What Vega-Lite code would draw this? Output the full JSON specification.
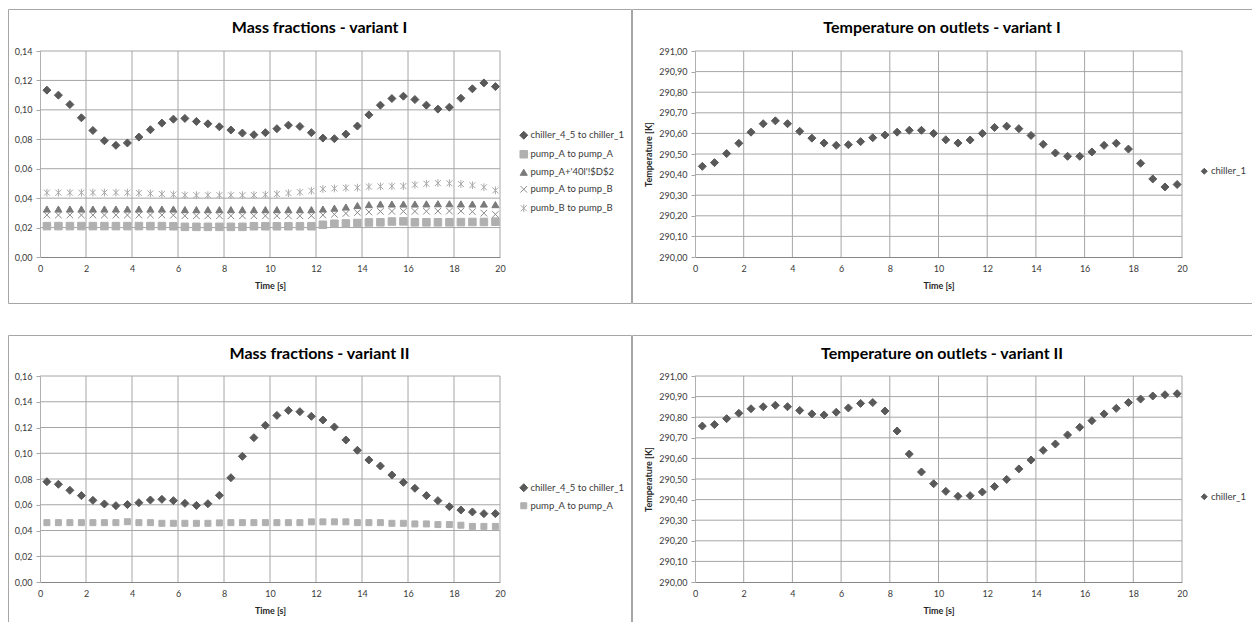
{
  "$schema": "https://vega.github.io/schema/vega-lite/v6.json",
  "background": "white",
  "padding": {"left": 7, "top": 8, "right": 0, "bottom": 0},
  "config": {
    "font": "Lato",
    "view": {"stroke": "#a6a6a6", "strokeWidth": 1},
    "axis": {"labelFont": "Lato", "labelFontSize": 9, "labelColor": "#3a3a3a", "titleFont": "Lato", "titleFontSize": 9, "titleFontWeight": "bold", "titleColor": "#262626", "grid": false, "labelFlush": false, "labelOverlap": false, "tickCount": 20},
    "axisX": {"ticks": false, "domainColor": "#868686", "labelPadding": 7, "titlePadding": 8},
    "axisY": {"tickSize": 4, "tickColor": "#a6a6a6", "domainColor": "#b0b0b0", "labelPadding": 4, "titlePadding": 5},
    "title": {"font": "Lato", "fontSize": 16, "fontWeight": "bold", "color": "#000000", "anchor": "middle", "offset": -27, "baseline": "alphabetic"},
    "legend": {"orient": "none", "labelFont": "Lato", "labelFontSize": 9.5, "labelColor": "#3a3a3a", "symbolSize": 36, "symbolStrokeWidth": 1, "rowPadding": 6, "labelOffset": 2, "padding": 0},
    "rule": {"color": "#a6a6a6", "strokeWidth": 1}
  },
  "datasets": {
    "mass1": [
      {"t":0.3,"s":"chiller_4_5 to chiller_1","v":0.1134},{"t":0.8,"s":"chiller_4_5 to chiller_1","v":0.1100},{"t":1.3,"s":"chiller_4_5 to chiller_1","v":0.1036},{"t":1.8,"s":"chiller_4_5 to chiller_1","v":0.0946},{"t":2.3,"s":"chiller_4_5 to chiller_1","v":0.0860},{"t":2.8,"s":"chiller_4_5 to chiller_1","v":0.0790},{"t":3.3,"s":"chiller_4_5 to chiller_1","v":0.0759},{"t":3.8,"s":"chiller_4_5 to chiller_1","v":0.0775},{"t":4.3,"s":"chiller_4_5 to chiller_1","v":0.0815},{"t":4.8,"s":"chiller_4_5 to chiller_1","v":0.0865},
      {"t":5.3,"s":"chiller_4_5 to chiller_1","v":0.0910},{"t":5.8,"s":"chiller_4_5 to chiller_1","v":0.0937},{"t":6.3,"s":"chiller_4_5 to chiller_1","v":0.0942},{"t":6.8,"s":"chiller_4_5 to chiller_1","v":0.0921},{"t":7.3,"s":"chiller_4_5 to chiller_1","v":0.0905},{"t":7.8,"s":"chiller_4_5 to chiller_1","v":0.0885},{"t":8.3,"s":"chiller_4_5 to chiller_1","v":0.0863},{"t":8.8,"s":"chiller_4_5 to chiller_1","v":0.0842},{"t":9.3,"s":"chiller_4_5 to chiller_1","v":0.0831},{"t":9.8,"s":"chiller_4_5 to chiller_1","v":0.0845},
      {"t":10.3,"s":"chiller_4_5 to chiller_1","v":0.0872},{"t":10.8,"s":"chiller_4_5 to chiller_1","v":0.0896},{"t":11.3,"s":"chiller_4_5 to chiller_1","v":0.0887},{"t":11.8,"s":"chiller_4_5 to chiller_1","v":0.0845},{"t":12.3,"s":"chiller_4_5 to chiller_1","v":0.0808},{"t":12.8,"s":"chiller_4_5 to chiller_1","v":0.0804},{"t":13.3,"s":"chiller_4_5 to chiller_1","v":0.0835},{"t":13.8,"s":"chiller_4_5 to chiller_1","v":0.0890},{"t":14.3,"s":"chiller_4_5 to chiller_1","v":0.0966},{"t":14.8,"s":"chiller_4_5 to chiller_1","v":0.1032},
      {"t":15.3,"s":"chiller_4_5 to chiller_1","v":0.1077},{"t":15.8,"s":"chiller_4_5 to chiller_1","v":0.1093},{"t":16.3,"s":"chiller_4_5 to chiller_1","v":0.1070},{"t":16.8,"s":"chiller_4_5 to chiller_1","v":0.1032},{"t":17.3,"s":"chiller_4_5 to chiller_1","v":0.1005},{"t":17.8,"s":"chiller_4_5 to chiller_1","v":0.1018},{"t":18.3,"s":"chiller_4_5 to chiller_1","v":0.1079},{"t":18.8,"s":"chiller_4_5 to chiller_1","v":0.1143},{"t":19.3,"s":"chiller_4_5 to chiller_1","v":0.1183},{"t":19.8,"s":"chiller_4_5 to chiller_1","v":0.1158},

      {"t":0.3,"s":"pump_A to pump_A","v":0.0210},{"t":0.8,"s":"pump_A to pump_A","v":0.0210},{"t":1.3,"s":"pump_A to pump_A","v":0.0210},{"t":1.8,"s":"pump_A to pump_A","v":0.0210},{"t":2.3,"s":"pump_A to pump_A","v":0.0210},{"t":2.8,"s":"pump_A to pump_A","v":0.0210},{"t":3.3,"s":"pump_A to pump_A","v":0.0210},{"t":3.8,"s":"pump_A to pump_A","v":0.0210},{"t":4.3,"s":"pump_A to pump_A","v":0.0210},{"t":4.8,"s":"pump_A to pump_A","v":0.0210},
      {"t":5.3,"s":"pump_A to pump_A","v":0.0210},{"t":5.8,"s":"pump_A to pump_A","v":0.0209},{"t":6.3,"s":"pump_A to pump_A","v":0.0205},{"t":6.8,"s":"pump_A to pump_A","v":0.0205},{"t":7.3,"s":"pump_A to pump_A","v":0.0205},{"t":7.8,"s":"pump_A to pump_A","v":0.0205},{"t":8.3,"s":"pump_A to pump_A","v":0.0205},{"t":8.8,"s":"pump_A to pump_A","v":0.0205},{"t":9.3,"s":"pump_A to pump_A","v":0.0209},{"t":9.8,"s":"pump_A to pump_A","v":0.0209},
      {"t":10.3,"s":"pump_A to pump_A","v":0.0209},{"t":10.8,"s":"pump_A to pump_A","v":0.0209},{"t":11.3,"s":"pump_A to pump_A","v":0.0209},{"t":11.8,"s":"pump_A to pump_A","v":0.0209},{"t":12.3,"s":"pump_A to pump_A","v":0.0219},{"t":12.8,"s":"pump_A to pump_A","v":0.0226},{"t":13.3,"s":"pump_A to pump_A","v":0.0228},{"t":13.8,"s":"pump_A to pump_A","v":0.0231},{"t":14.3,"s":"pump_A to pump_A","v":0.0235},{"t":14.8,"s":"pump_A to pump_A","v":0.0236},
      {"t":15.3,"s":"pump_A to pump_A","v":0.0241},{"t":15.8,"s":"pump_A to pump_A","v":0.0242},{"t":16.3,"s":"pump_A to pump_A","v":0.0236},{"t":16.8,"s":"pump_A to pump_A","v":0.0236},{"t":17.3,"s":"pump_A to pump_A","v":0.0236},{"t":17.8,"s":"pump_A to pump_A","v":0.0236},{"t":18.3,"s":"pump_A to pump_A","v":0.0237},{"t":18.8,"s":"pump_A to pump_A","v":0.0238},{"t":19.3,"s":"pump_A to pump_A","v":0.0238},{"t":19.8,"s":"pump_A to pump_A","v":0.0240},

      {"t":0.3,"s":"pump_A+'40l'!$D$2","v":0.0326},{"t":0.8,"s":"pump_A+'40l'!$D$2","v":0.0326},{"t":1.3,"s":"pump_A+'40l'!$D$2","v":0.0326},{"t":1.8,"s":"pump_A+'40l'!$D$2","v":0.0326},{"t":2.3,"s":"pump_A+'40l'!$D$2","v":0.0326},{"t":2.8,"s":"pump_A+'40l'!$D$2","v":0.0326},{"t":3.3,"s":"pump_A+'40l'!$D$2","v":0.0326},{"t":3.8,"s":"pump_A+'40l'!$D$2","v":0.0326},{"t":4.3,"s":"pump_A+'40l'!$D$2","v":0.0326},{"t":4.8,"s":"pump_A+'40l'!$D$2","v":0.0326},
      {"t":5.3,"s":"pump_A+'40l'!$D$2","v":0.0326},{"t":5.8,"s":"pump_A+'40l'!$D$2","v":0.0326},{"t":6.3,"s":"pump_A+'40l'!$D$2","v":0.0322},{"t":6.8,"s":"pump_A+'40l'!$D$2","v":0.0322},{"t":7.3,"s":"pump_A+'40l'!$D$2","v":0.0322},{"t":7.8,"s":"pump_A+'40l'!$D$2","v":0.0322},{"t":8.3,"s":"pump_A+'40l'!$D$2","v":0.0322},{"t":8.8,"s":"pump_A+'40l'!$D$2","v":0.0322},{"t":9.3,"s":"pump_A+'40l'!$D$2","v":0.0322},{"t":9.8,"s":"pump_A+'40l'!$D$2","v":0.0322},
      {"t":10.3,"s":"pump_A+'40l'!$D$2","v":0.0322},{"t":10.8,"s":"pump_A+'40l'!$D$2","v":0.0322},{"t":11.3,"s":"pump_A+'40l'!$D$2","v":0.0322},{"t":11.8,"s":"pump_A+'40l'!$D$2","v":0.0322},{"t":12.3,"s":"pump_A+'40l'!$D$2","v":0.0326},{"t":12.8,"s":"pump_A+'40l'!$D$2","v":0.0332},{"t":13.3,"s":"pump_A+'40l'!$D$2","v":0.0340},{"t":13.8,"s":"pump_A+'40l'!$D$2","v":0.0350},{"t":14.3,"s":"pump_A+'40l'!$D$2","v":0.0356},{"t":14.8,"s":"pump_A+'40l'!$D$2","v":0.0360},
      {"t":15.3,"s":"pump_A+'40l'!$D$2","v":0.0360},{"t":15.8,"s":"pump_A+'40l'!$D$2","v":0.0360},{"t":16.3,"s":"pump_A+'40l'!$D$2","v":0.0360},{"t":16.8,"s":"pump_A+'40l'!$D$2","v":0.0361},{"t":17.3,"s":"pump_A+'40l'!$D$2","v":0.0362},{"t":17.8,"s":"pump_A+'40l'!$D$2","v":0.0362},{"t":18.3,"s":"pump_A+'40l'!$D$2","v":0.0361},{"t":18.8,"s":"pump_A+'40l'!$D$2","v":0.0360},{"t":19.3,"s":"pump_A+'40l'!$D$2","v":0.0360},{"t":19.8,"s":"pump_A+'40l'!$D$2","v":0.0356},

      {"t":0.3,"s":"pump_A to pump_B","v":0.0285},{"t":0.8,"s":"pump_A to pump_B","v":0.0285},{"t":1.3,"s":"pump_A to pump_B","v":0.0285},{"t":1.8,"s":"pump_A to pump_B","v":0.0285},{"t":2.3,"s":"pump_A to pump_B","v":0.0285},{"t":2.8,"s":"pump_A to pump_B","v":0.0285},{"t":3.3,"s":"pump_A to pump_B","v":0.0285},{"t":3.8,"s":"pump_A to pump_B","v":0.0285},{"t":4.3,"s":"pump_A to pump_B","v":0.0285},{"t":4.8,"s":"pump_A to pump_B","v":0.0285},
      {"t":5.3,"s":"pump_A to pump_B","v":0.0285},{"t":5.8,"s":"pump_A to pump_B","v":0.0284},{"t":6.3,"s":"pump_A to pump_B","v":0.0280},{"t":6.8,"s":"pump_A to pump_B","v":0.0280},{"t":7.3,"s":"pump_A to pump_B","v":0.0280},{"t":7.8,"s":"pump_A to pump_B","v":0.0280},{"t":8.3,"s":"pump_A to pump_B","v":0.0280},{"t":8.8,"s":"pump_A to pump_B","v":0.0280},{"t":9.3,"s":"pump_A to pump_B","v":0.0280},{"t":9.8,"s":"pump_A to pump_B","v":0.0280},
      {"t":10.3,"s":"pump_A to pump_B","v":0.0280},{"t":10.8,"s":"pump_A to pump_B","v":0.0280},{"t":11.3,"s":"pump_A to pump_B","v":0.0280},{"t":11.8,"s":"pump_A to pump_B","v":0.0281},{"t":12.3,"s":"pump_A to pump_B","v":0.0285},{"t":12.8,"s":"pump_A to pump_B","v":0.0290},{"t":13.3,"s":"pump_A to pump_B","v":0.0296},{"t":13.8,"s":"pump_A to pump_B","v":0.0302},{"t":14.3,"s":"pump_A to pump_B","v":0.0306},{"t":14.8,"s":"pump_A to pump_B","v":0.0310},
      {"t":15.3,"s":"pump_A to pump_B","v":0.0310},{"t":15.8,"s":"pump_A to pump_B","v":0.0310},{"t":16.3,"s":"pump_A to pump_B","v":0.0310},{"t":16.8,"s":"pump_A to pump_B","v":0.0311},{"t":17.3,"s":"pump_A to pump_B","v":0.0312},{"t":17.8,"s":"pump_A to pump_B","v":0.0312},{"t":18.3,"s":"pump_A to pump_B","v":0.0312},{"t":18.8,"s":"pump_A to pump_B","v":0.0308},{"t":19.3,"s":"pump_A to pump_B","v":0.0298},{"t":19.8,"s":"pump_A to pump_B","v":0.0290},

      {"t":0.3,"s":"pumb_B to pump_B","v":0.0437},{"t":0.8,"s":"pumb_B to pump_B","v":0.0437},{"t":1.3,"s":"pumb_B to pump_B","v":0.0437},{"t":1.8,"s":"pumb_B to pump_B","v":0.0437},{"t":2.3,"s":"pumb_B to pump_B","v":0.0438},{"t":2.8,"s":"pumb_B to pump_B","v":0.0438},{"t":3.3,"s":"pumb_B to pump_B","v":0.0438},{"t":3.8,"s":"pumb_B to pump_B","v":0.0437},{"t":4.3,"s":"pumb_B to pump_B","v":0.0435},{"t":4.8,"s":"pumb_B to pump_B","v":0.0432},
      {"t":5.3,"s":"pumb_B to pump_B","v":0.0428},{"t":5.8,"s":"pumb_B to pump_B","v":0.0425},{"t":6.3,"s":"pumb_B to pump_B","v":0.0420},{"t":6.8,"s":"pumb_B to pump_B","v":0.0420},{"t":7.3,"s":"pumb_B to pump_B","v":0.0420},{"t":7.8,"s":"pumb_B to pump_B","v":0.0420},{"t":8.3,"s":"pumb_B to pump_B","v":0.0420},{"t":8.8,"s":"pumb_B to pump_B","v":0.0420},{"t":9.3,"s":"pumb_B to pump_B","v":0.0421},{"t":9.8,"s":"pumb_B to pump_B","v":0.0423},
      {"t":10.3,"s":"pumb_B to pump_B","v":0.0428},{"t":10.8,"s":"pumb_B to pump_B","v":0.0434},{"t":11.3,"s":"pumb_B to pump_B","v":0.0440},{"t":11.8,"s":"pumb_B to pump_B","v":0.0450},{"t":12.3,"s":"pumb_B to pump_B","v":0.0462},{"t":12.8,"s":"pumb_B to pump_B","v":0.0466},{"t":13.3,"s":"pumb_B to pump_B","v":0.0470},{"t":13.8,"s":"pumb_B to pump_B","v":0.0471},{"t":14.3,"s":"pumb_B to pump_B","v":0.0478},{"t":14.8,"s":"pumb_B to pump_B","v":0.0480},
      {"t":15.3,"s":"pumb_B to pump_B","v":0.0481},{"t":15.8,"s":"pumb_B to pump_B","v":0.0482},{"t":16.3,"s":"pumb_B to pump_B","v":0.0491},{"t":16.8,"s":"pumb_B to pump_B","v":0.0498},{"t":17.3,"s":"pumb_B to pump_B","v":0.0502},{"t":17.8,"s":"pumb_B to pump_B","v":0.0501},{"t":18.3,"s":"pumb_B to pump_B","v":0.0496},{"t":18.8,"s":"pumb_B to pump_B","v":0.0488},{"t":19.3,"s":"pumb_B to pump_B","v":0.0474},{"t":19.8,"s":"pumb_B to pump_B","v":0.0453}
    ],
    "temp1": [
      {"t":0.3,"s":"chiller_1","v":290.440},{"t":0.8,"s":"chiller_1","v":290.458},{"t":1.3,"s":"chiller_1","v":290.502},{"t":1.8,"s":"chiller_1","v":290.552},{"t":2.3,"s":"chiller_1","v":290.606},{"t":2.8,"s":"chiller_1","v":290.647},{"t":3.3,"s":"chiller_1","v":290.661},{"t":3.8,"s":"chiller_1","v":290.647},{"t":4.3,"s":"chiller_1","v":290.610},{"t":4.8,"s":"chiller_1","v":290.577},
      {"t":5.3,"s":"chiller_1","v":290.553},{"t":5.8,"s":"chiller_1","v":290.542},{"t":6.3,"s":"chiller_1","v":290.545},{"t":6.8,"s":"chiller_1","v":290.560},{"t":7.3,"s":"chiller_1","v":290.579},{"t":7.8,"s":"chiller_1","v":290.592},{"t":8.3,"s":"chiller_1","v":290.606},{"t":8.8,"s":"chiller_1","v":290.615},{"t":9.3,"s":"chiller_1","v":290.615},{"t":9.8,"s":"chiller_1","v":290.600},
      {"t":10.3,"s":"chiller_1","v":290.569},{"t":10.8,"s":"chiller_1","v":290.553},{"t":11.3,"s":"chiller_1","v":290.568},{"t":11.8,"s":"chiller_1","v":290.600},{"t":12.3,"s":"chiller_1","v":290.629},{"t":12.8,"s":"chiller_1","v":290.635},{"t":13.3,"s":"chiller_1","v":290.623},{"t":13.8,"s":"chiller_1","v":290.590},{"t":14.3,"s":"chiller_1","v":290.547},{"t":14.8,"s":"chiller_1","v":290.505},
      {"t":15.3,"s":"chiller_1","v":290.489},{"t":15.8,"s":"chiller_1","v":290.489},{"t":16.3,"s":"chiller_1","v":290.510},{"t":16.8,"s":"chiller_1","v":290.542},{"t":17.3,"s":"chiller_1","v":290.552},{"t":17.8,"s":"chiller_1","v":290.524},{"t":18.3,"s":"chiller_1","v":290.455},{"t":18.8,"s":"chiller_1","v":290.379},{"t":19.3,"s":"chiller_1","v":290.340},{"t":19.8,"s":"chiller_1","v":290.352}
    ],
    "mass2": [
      {"t":0.3,"s":"chiller_4_5 to chiller_1","v":0.0779},{"t":0.8,"s":"chiller_4_5 to chiller_1","v":0.0759},{"t":1.3,"s":"chiller_4_5 to chiller_1","v":0.0712},{"t":1.8,"s":"chiller_4_5 to chiller_1","v":0.0671},{"t":2.3,"s":"chiller_4_5 to chiller_1","v":0.0634},{"t":2.8,"s":"chiller_4_5 to chiller_1","v":0.0606},{"t":3.3,"s":"chiller_4_5 to chiller_1","v":0.0593},{"t":3.8,"s":"chiller_4_5 to chiller_1","v":0.0601},{"t":4.3,"s":"chiller_4_5 to chiller_1","v":0.0616},{"t":4.8,"s":"chiller_4_5 to chiller_1","v":0.0637},
      {"t":5.3,"s":"chiller_4_5 to chiller_1","v":0.0642},{"t":5.8,"s":"chiller_4_5 to chiller_1","v":0.0632},{"t":6.3,"s":"chiller_4_5 to chiller_1","v":0.0611},{"t":6.8,"s":"chiller_4_5 to chiller_1","v":0.0595},{"t":7.3,"s":"chiller_4_5 to chiller_1","v":0.0608},{"t":7.8,"s":"chiller_4_5 to chiller_1","v":0.0673},{"t":8.3,"s":"chiller_4_5 to chiller_1","v":0.0810},{"t":8.8,"s":"chiller_4_5 to chiller_1","v":0.0976},{"t":9.3,"s":"chiller_4_5 to chiller_1","v":0.1121},{"t":9.8,"s":"chiller_4_5 to chiller_1","v":0.1217},
      {"t":10.3,"s":"chiller_4_5 to chiller_1","v":0.1294},{"t":10.8,"s":"chiller_4_5 to chiller_1","v":0.1333},{"t":11.3,"s":"chiller_4_5 to chiller_1","v":0.1323},{"t":11.8,"s":"chiller_4_5 to chiller_1","v":0.1287},{"t":12.3,"s":"chiller_4_5 to chiller_1","v":0.1258},{"t":12.8,"s":"chiller_4_5 to chiller_1","v":0.1204},{"t":13.3,"s":"chiller_4_5 to chiller_1","v":0.1103},{"t":13.8,"s":"chiller_4_5 to chiller_1","v":0.1023},{"t":14.3,"s":"chiller_4_5 to chiller_1","v":0.0948},{"t":14.8,"s":"chiller_4_5 to chiller_1","v":0.0901},
      {"t":15.3,"s":"chiller_4_5 to chiller_1","v":0.0831},{"t":15.8,"s":"chiller_4_5 to chiller_1","v":0.0774},{"t":16.3,"s":"chiller_4_5 to chiller_1","v":0.0728},{"t":16.8,"s":"chiller_4_5 to chiller_1","v":0.0671},{"t":17.3,"s":"chiller_4_5 to chiller_1","v":0.0632},{"t":17.8,"s":"chiller_4_5 to chiller_1","v":0.0585},{"t":18.3,"s":"chiller_4_5 to chiller_1","v":0.0559},{"t":18.8,"s":"chiller_4_5 to chiller_1","v":0.0544},{"t":19.3,"s":"chiller_4_5 to chiller_1","v":0.0531},{"t":19.8,"s":"chiller_4_5 to chiller_1","v":0.0531},

      {"t":0.3,"s":"pump_A to pump_A","v":0.0461},{"t":0.8,"s":"pump_A to pump_A","v":0.0461},{"t":1.3,"s":"pump_A to pump_A","v":0.0461},{"t":1.8,"s":"pump_A to pump_A","v":0.0461},{"t":2.3,"s":"pump_A to pump_A","v":0.0461},{"t":2.8,"s":"pump_A to pump_A","v":0.0461},{"t":3.3,"s":"pump_A to pump_A","v":0.0461},{"t":3.8,"s":"pump_A to pump_A","v":0.0468},{"t":4.3,"s":"pump_A to pump_A","v":0.0461},{"t":4.8,"s":"pump_A to pump_A","v":0.0461},
      {"t":5.3,"s":"pump_A to pump_A","v":0.0456},{"t":5.8,"s":"pump_A to pump_A","v":0.0456},{"t":6.3,"s":"pump_A to pump_A","v":0.0456},{"t":6.8,"s":"pump_A to pump_A","v":0.0456},{"t":7.3,"s":"pump_A to pump_A","v":0.0456},{"t":7.8,"s":"pump_A to pump_A","v":0.0459},{"t":8.3,"s":"pump_A to pump_A","v":0.0461},{"t":8.8,"s":"pump_A to pump_A","v":0.0461},{"t":9.3,"s":"pump_A to pump_A","v":0.0461},{"t":9.8,"s":"pump_A to pump_A","v":0.0461},
      {"t":10.3,"s":"pump_A to pump_A","v":0.0461},{"t":10.8,"s":"pump_A to pump_A","v":0.0461},{"t":11.3,"s":"pump_A to pump_A","v":0.0461},{"t":11.8,"s":"pump_A to pump_A","v":0.0467},{"t":12.3,"s":"pump_A to pump_A","v":0.0467},{"t":12.8,"s":"pump_A to pump_A","v":0.0467},{"t":13.3,"s":"pump_A to pump_A","v":0.0467},{"t":13.8,"s":"pump_A to pump_A","v":0.0461},{"t":14.3,"s":"pump_A to pump_A","v":0.0461},{"t":14.8,"s":"pump_A to pump_A","v":0.0461},
      {"t":15.3,"s":"pump_A to pump_A","v":0.0456},{"t":15.8,"s":"pump_A to pump_A","v":0.0456},{"t":16.3,"s":"pump_A to pump_A","v":0.0451},{"t":16.8,"s":"pump_A to pump_A","v":0.0451},{"t":17.3,"s":"pump_A to pump_A","v":0.0446},{"t":17.8,"s":"pump_A to pump_A","v":0.0446},{"t":18.3,"s":"pump_A to pump_A","v":0.0441},{"t":18.8,"s":"pump_A to pump_A","v":0.0432},{"t":19.3,"s":"pump_A to pump_A","v":0.0432},{"t":19.8,"s":"pump_A to pump_A","v":0.0432}
    ],
    "temp2": [
      {"t":0.3,"s":"chiller_1","v":290.757},{"t":0.8,"s":"chiller_1","v":290.764},{"t":1.3,"s":"chiller_1","v":290.793},{"t":1.8,"s":"chiller_1","v":290.819},{"t":2.3,"s":"chiller_1","v":290.841},{"t":2.8,"s":"chiller_1","v":290.851},{"t":3.3,"s":"chiller_1","v":290.858},{"t":3.8,"s":"chiller_1","v":290.851},{"t":4.3,"s":"chiller_1","v":290.833},{"t":4.8,"s":"chiller_1","v":290.816},
      {"t":5.3,"s":"chiller_1","v":290.811},{"t":5.8,"s":"chiller_1","v":290.824},{"t":6.3,"s":"chiller_1","v":290.845},{"t":6.8,"s":"chiller_1","v":290.867},{"t":7.3,"s":"chiller_1","v":290.871},{"t":7.8,"s":"chiller_1","v":290.830},{"t":8.3,"s":"chiller_1","v":290.733},{"t":8.8,"s":"chiller_1","v":290.621},{"t":9.3,"s":"chiller_1","v":290.534},{"t":9.8,"s":"chiller_1","v":290.477},
      {"t":10.3,"s":"chiller_1","v":290.440},{"t":10.8,"s":"chiller_1","v":290.416},{"t":11.3,"s":"chiller_1","v":290.419},{"t":11.8,"s":"chiller_1","v":290.437},{"t":12.3,"s":"chiller_1","v":290.463},{"t":12.8,"s":"chiller_1","v":290.498},{"t":13.3,"s":"chiller_1","v":290.549},{"t":13.8,"s":"chiller_1","v":290.592},{"t":14.3,"s":"chiller_1","v":290.639},{"t":14.8,"s":"chiller_1","v":290.670},
      {"t":15.3,"s":"chiller_1","v":290.714},{"t":15.8,"s":"chiller_1","v":290.751},{"t":16.3,"s":"chiller_1","v":290.783},{"t":16.8,"s":"chiller_1","v":290.816},{"t":17.3,"s":"chiller_1","v":290.843},{"t":17.8,"s":"chiller_1","v":290.871},{"t":18.3,"s":"chiller_1","v":290.888},{"t":18.8,"s":"chiller_1","v":290.903},{"t":19.3,"s":"chiller_1","v":290.909},{"t":19.8,"s":"chiller_1","v":290.914}
    ]
  },
  "columns": 2,
  "spacing": {"row": 32, "column": 1},
  "bounds": "flush",
  "resolve": {
    "scale": {"x": "independent", "y": "independent", "shape": "independent", "color": "independent", "stroke": "independent", "size": "independent"},
    "legend": {"shape": "independent", "color": "independent", "stroke": "independent", "size": "independent"}
  },
  "concat": [
    {
      "width": 623,
      "height": 294,
      "title": "Mass fractions - variant I",
      "layer": [
        {
          "data": {"values": [{"t":2},{"t":4},{"t":6},{"t":8},{"t":10},{"t":12},{"t":14},{"t":16},{"t":18},{"t":20}]},
          "mark": "rule",
          "encoding": {"x": {"field": "t", "type": "quantitative"}, "y": {"datum": 0}, "y2": {"datum": 0.14}}
        },
        {
          "data": {"values": [{"v":0.02},{"v":0.04},{"v":0.06},{"v":0.08},{"v":0.10},{"v":0.12},{"v":0.14}]},
          "mark": "rule",
          "encoding": {"y": {"field": "v", "type": "quantitative"}, "x": {"datum": 0}, "x2": {"datum": 20}}
        },
        {
          "data": {"name": "mass1"},
          "mark": {"type": "point", "filled": true, "opacity": 1, "strokeWidth": 1},
          "encoding": {
            "x": {"field": "t", "type": "quantitative", "title": "Time [s]",
                  "scale": {"domain": [0, 20], "range": [32, 492], "nice": false, "zero": false},
                  "axis": {"values": [0,2,4,6,8,10,12,14,16,18,20], "offset": -46, "tickCount": 20, "labelOverlap": false}},
            "y": {"field": "v", "type": "quantitative", "title": null,
                  "scale": {"domain": [0, 0.14], "range": [248, 42], "nice": false, "zero": false},
                  "axis": {"values": [0,0.02,0.04,0.06,0.08,0.10,0.12,0.14], "offset": -32, "tickCount": 20, "labelOverlap": false, "labelExpr": "replace(format(datum.value, '.2f'), '.', ',')"}},
            "shape": {"field": "s", "type": "nominal",
                      "scale": {"domain": ["chiller_4_5 to chiller_1","pump_A to pump_A","pump_A+'40l'!$D$2","pump_A to pump_B","pumb_B to pump_B"],
                                "range": ["diamond","square","triangle-up","M-1,-1L1,1M-1,1L1,-1","M-1,-1L1,1M-1,1L1,-1M0,-1.3L0,1.3"]},
                      "legend": {"title": null, "orient": "none", "legendX": 511, "legendY": 121.5}},
            "color": {"field": "s", "type": "nominal",
                      "scale": {"domain": ["chiller_4_5 to chiller_1","pump_A to pump_A","pump_A+'40l'!$D$2","pump_A to pump_B","pumb_B to pump_B"],
                                "range": ["#595959","#b0b0b0","#7a7a7a","#8a8a8a","#a8a8a8"]}},
            "stroke": {"field": "s", "type": "nominal",
                       "scale": {"domain": ["chiller_4_5 to chiller_1","pump_A to pump_A","pump_A+'40l'!$D$2","pump_A to pump_B","pumb_B to pump_B"],
                                 "range": ["#595959","#b0b0b0","#7a7a7a","#8a8a8a","#a8a8a8"]}},
            "size": {"field": "s", "type": "nominal",
                     "scale": {"domain": ["chiller_4_5 to chiller_1","pump_A to pump_A","pump_A+'40l'!$D$2","pump_A to pump_B","pumb_B to pump_B"],
                               "range": [64, 36, 52, 42, 49]}}
          }
        }
      ]
    },
    {
      "width": 620,
      "height": 294,
      "title": "Temperature on outlets - variant I",
      "layer": [
        {
          "data": {"values": [{"t":2},{"t":4},{"t":6},{"t":8},{"t":10},{"t":12},{"t":14},{"t":16},{"t":18},{"t":20}]},
          "mark": "rule",
          "encoding": {"x": {"field": "t", "type": "quantitative"}, "y": {"datum": 290}, "y2": {"datum": 291}}
        },
        {
          "data": {"values": [{"v":290.1},{"v":290.2},{"v":290.3},{"v":290.4},{"v":290.5},{"v":290.6},{"v":290.7},{"v":290.8},{"v":290.9},{"v":291.0}]},
          "mark": "rule",
          "encoding": {"y": {"field": "v", "type": "quantitative"}, "x": {"datum": 0}, "x2": {"datum": 20}}
        },
        {
          "data": {"name": "temp1"},
          "mark": {"type": "point", "filled": true, "opacity": 1, "strokeWidth": 1, "size": 64, "shape": "diamond"},
          "encoding": {
            "x": {"field": "t", "type": "quantitative", "title": "Time [s]",
                  "scale": {"domain": [0, 20], "range": [63, 550], "nice": false, "zero": false},
                  "axis": {"values": [0,2,4,6,8,10,12,14,16,18,20], "offset": -46, "tickCount": 20, "labelOverlap": false}},
            "y": {"field": "v", "type": "quantitative", "title": "Temperature [K]",
                  "scale": {"domain": [290, 291], "range": [248, 42], "nice": false, "zero": false},
                  "axis": {"values": [290,290.1,290.2,290.3,290.4,290.5,290.6,290.7,290.8,290.9,291], "offset": -63, "tickCount": 20, "labelOverlap": false, "labelExpr": "replace(format(datum.value, '.2f'), '.', ',')"}},
            "shape": {"field": "s", "type": "nominal", "scale": {"domain": ["chiller_1"], "range": ["diamond"]},
                      "legend": {"title": null, "orient": "none", "legendX": 567.5, "legendY": 157.5}},
            "color": {"field": "s", "type": "nominal", "scale": {"domain": ["chiller_1"], "range": ["#595959"]}},
            "stroke": {"field": "s", "type": "nominal", "scale": {"domain": ["chiller_1"], "range": ["#595959"]}}
          }
        }
      ]
    },
    {
      "width": 623,
      "height": 287,
      "title": "Mass fractions - variant II",
      "layer": [
        {
          "data": {"values": [{"t":2},{"t":4},{"t":6},{"t":8},{"t":10},{"t":12},{"t":14},{"t":16},{"t":18},{"t":20}]},
          "mark": "rule",
          "encoding": {"x": {"field": "t", "type": "quantitative"}, "y": {"datum": 0}, "y2": {"datum": 0.16}}
        },
        {
          "data": {"values": [{"v":0.02},{"v":0.04},{"v":0.06},{"v":0.08},{"v":0.10},{"v":0.12},{"v":0.14},{"v":0.16}]},
          "mark": "rule",
          "encoding": {"y": {"field": "v", "type": "quantitative"}, "x": {"datum": 0}, "x2": {"datum": 20}}
        },
        {
          "data": {"name": "mass2"},
          "mark": {"type": "point", "filled": true, "opacity": 1, "strokeWidth": 1},
          "encoding": {
            "x": {"field": "t", "type": "quantitative", "title": "Time [s]",
                  "scale": {"domain": [0, 20], "range": [32, 492], "nice": false, "zero": false},
                  "axis": {"values": [0,2,4,6,8,10,12,14,16,18,20], "offset": -40, "tickCount": 20, "labelOverlap": false}},
            "y": {"field": "v", "type": "quantitative", "title": null,
                  "scale": {"domain": [0, 0.16], "range": [247, 41], "nice": false, "zero": false},
                  "axis": {"values": [0,0.02,0.04,0.06,0.08,0.10,0.12,0.14,0.16], "offset": -32, "tickCount": 20, "labelOverlap": false, "labelExpr": "replace(format(datum.value, '.2f'), '.', ',')"}},
            "shape": {"field": "s", "type": "nominal",
                      "scale": {"domain": ["chiller_4_5 to chiller_1","pump_A to pump_A"], "range": ["diamond","square"]},
                      "legend": {"title": null, "orient": "none", "legendX": 511, "legendY": 148}},
            "color": {"field": "s", "type": "nominal",
                      "scale": {"domain": ["chiller_4_5 to chiller_1","pump_A to pump_A"], "range": ["#595959","#b0b0b0"]}},
            "stroke": {"field": "s", "type": "nominal",
                       "scale": {"domain": ["chiller_4_5 to chiller_1","pump_A to pump_A"], "range": ["#595959","#b0b0b0"]}},
            "size": {"field": "s", "type": "nominal",
                     "scale": {"domain": ["chiller_4_5 to chiller_1","pump_A to pump_A"], "range": [64, 36]}}
          }
        }
      ]
    },
    {
      "width": 620,
      "height": 287,
      "title": "Temperature on outlets - variant II",
      "layer": [
        {
          "data": {"values": [{"t":2},{"t":4},{"t":6},{"t":8},{"t":10},{"t":12},{"t":14},{"t":16},{"t":18},{"t":20}]},
          "mark": "rule",
          "encoding": {"x": {"field": "t", "type": "quantitative"}, "y": {"datum": 290}, "y2": {"datum": 291}}
        },
        {
          "data": {"values": [{"v":290.1},{"v":290.2},{"v":290.3},{"v":290.4},{"v":290.5},{"v":290.6},{"v":290.7},{"v":290.8},{"v":290.9},{"v":291.0}]},
          "mark": "rule",
          "encoding": {"y": {"field": "v", "type": "quantitative"}, "x": {"datum": 0}, "x2": {"datum": 20}}
        },
        {
          "data": {"name": "temp2"},
          "mark": {"type": "point", "filled": true, "opacity": 1, "strokeWidth": 1, "size": 64, "shape": "diamond"},
          "encoding": {
            "x": {"field": "t", "type": "quantitative", "title": "Time [s]",
                  "scale": {"domain": [0, 20], "range": [63, 550], "nice": false, "zero": false},
                  "axis": {"values": [0,2,4,6,8,10,12,14,16,18,20], "offset": -40, "tickCount": 20, "labelOverlap": false}},
            "y": {"field": "v", "type": "quantitative", "title": "Temperature [K]",
                  "scale": {"domain": [290, 291], "range": [247, 41], "nice": false, "zero": false},
                  "axis": {"values": [290,290.1,290.2,290.3,290.4,290.5,290.6,290.7,290.8,290.9,291], "offset": -63, "tickCount": 20, "labelOverlap": false, "labelExpr": "replace(format(datum.value, '.2f'), '.', ',')"}},
            "shape": {"field": "s", "type": "nominal", "scale": {"domain": ["chiller_1"], "range": ["diamond"]},
                      "legend": {"title": null, "orient": "none", "legendX": 567.5, "legendY": 157}},
            "color": {"field": "s", "type": "nominal", "scale": {"domain": ["chiller_1"], "range": ["#595959"]}},
            "stroke": {"field": "s", "type": "nominal", "scale": {"domain": ["chiller_1"], "range": ["#595959"]}}
          }
        }
      ]
    }
  ]
}
